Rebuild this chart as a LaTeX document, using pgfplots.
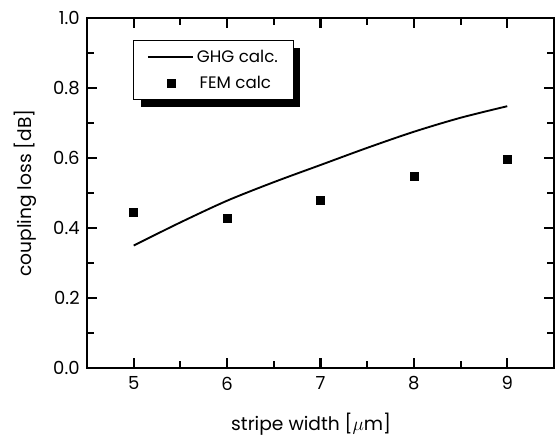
\documentclass[border=0pt]{standalone}
\usepackage{pgfplots}
\pgfplotsset{compat=1.18}
\usepackage{fontspec}
\setmainfont{Poppins}
\begin{document}
\begin{tikzpicture}
\begin{axis}[
  scale only axis,
  width=350.25pt, height=262.5pt,
  xmin=4.5, xmax=9.5, ymin=0, ymax=1.0,
  xtick={5,6,7,8,9},
  ytick={0,0.2,0.4,0.6,0.8,1.0},
  minor x tick num=1,
  minor y tick num=1,
  tick align=inside,
  major tick length=7.5pt,
  minor tick length=5pt,
  every tick/.style={line width=1.6pt, black},
  axis line style={line width=2.2pt},
  tick label style={font=\fontsize{13.5}{16}\selectfont},
  /pgf/number format/assume math mode=true,
  yticklabel style={/pgf/number format/fixed, /pgf/number format/fixed zerofill, /pgf/number format/precision=1, xshift=-2pt},
  xticklabel style={yshift=-3pt},
  xlabel={stripe width [$\mu$m]},
  ylabel={coupling loss [dB]},
  label style={font=\fontsize{14}{17}\selectfont},
  xlabel style={at={(axis description cs:0.48,-0.16)}, anchor=center},
  ylabel style={at={(axis description cs:-0.133,0.5)}, anchor=center, rotate=0},
  legend style={name=leg, at={(0.0985,0.937)}, anchor=north west, draw=black, line width=0.8pt,
    fill=white, font=\fontsize{12.5}{15}\selectfont,
    inner xsep=10pt, inner ysep=5pt, row sep=5pt,
    /tikz/every odd column/.append style={column sep=0pt}},
  legend cell align=left,
]
\addplot[black, line width=1.4pt, smooth,
  legend image code/.code={\draw[black, line width=1.4pt] (0cm,0cm) -- (1.2cm,0cm);}] coordinates {
  (5,0.350) (5.5,0.416) (6,0.478) (6.5,0.531) (7,0.580) (7.5,0.629) (8,0.675) (8.5,0.715) (9,0.748)
};
\addlegendentry{GHG calc.}
\addplot[only marks, mark=square*, mark size=3pt, black,
  legend image code/.code={\fill[black] (0.52cm,-0.1cm) rectangle (0.72cm,0.1cm); \path[draw=none,fill=none] (0cm,0cm) rectangle (1.2cm,0.01cm);}] coordinates {
  (5,0.445) (6,0.428) (7,0.480) (8,0.549) (9,0.596)
};
\addlegendentry{\,FEM calc}
\end{axis}
\fill[black] ([xshift=6pt]leg.south west) rectangle ([xshift=4.5pt,yshift=-5pt]leg.south east);
\fill[black] ([yshift=-6pt]leg.north east) rectangle ([xshift=4.5pt,yshift=-5pt]leg.south east);
\pgfresetboundingbox
\path (current axis.south west) ++(-65.25pt,-51.75pt) rectangle ++(420pt,327.75pt);
\end{tikzpicture}
\end{document}
